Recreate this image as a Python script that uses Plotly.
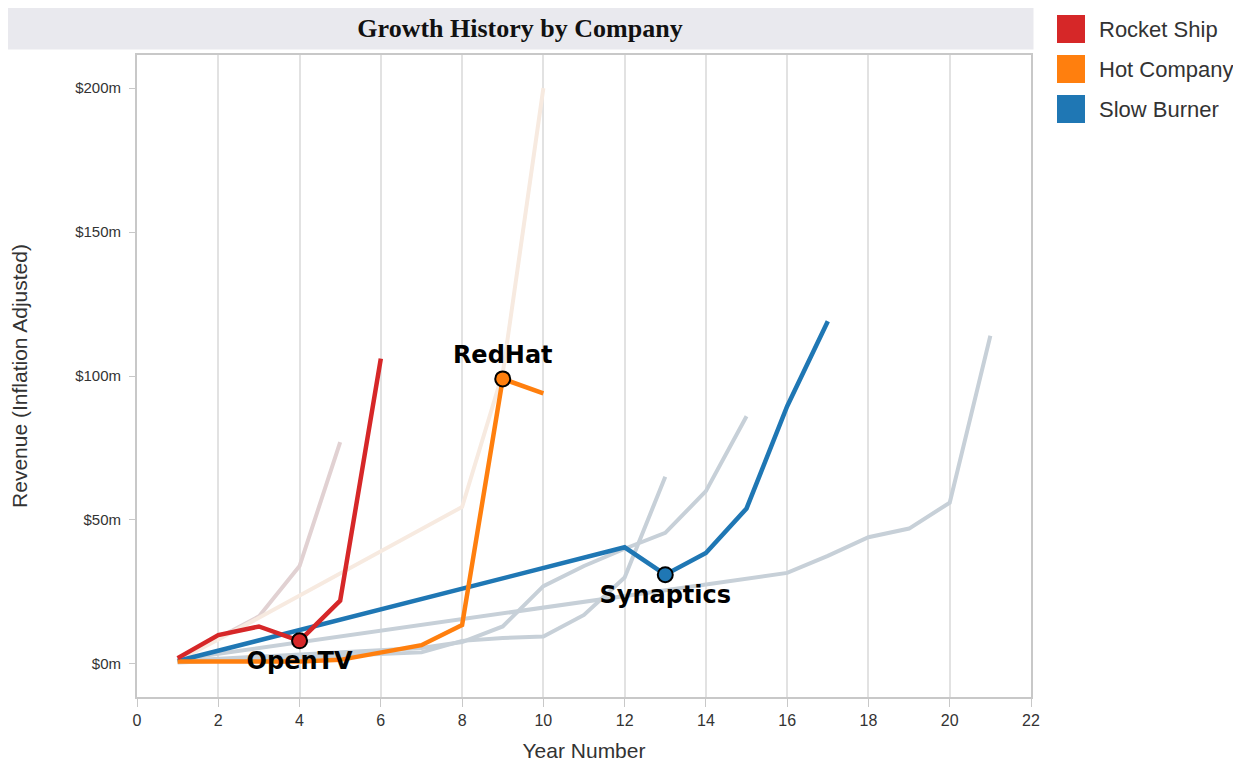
import plotly.graph_objects as go

# ---------------- data ----------------
categories = ["Rocket Ship", "Hot Company", "Slow Burner"]
cat_colors = ["#d62728", "#ff7f0e", "#1f77b4"]

# highlighted companies
opentv_years = [1, 2, 3, 4, 5, 6]
opentv_rev = [2, 10, 13, 8, 22, 106]

redhat_years = [1, 2, 3, 4, 5, 6, 7, 8, 9, 10]
redhat_rev = [0.8, 0.8, 0.8, 0.8, 1.4, 3.8, 6.5, 13.5, 99, 94]

synaptics_years = [1, 12, 13, 14, 15, 16, 17]
synaptics_rev = [1, 40.5, 31, 38.5, 54, 89.5, 119]

# faded (non-highlighted) companies
rocket_other_years = [1, 2, 3, 4, 5]
rocket_other_rev = [1, 9, 16.5, 34, 77]

hot_other_years = [1, 3, 8, 9, 10]
hot_other_rev = [1, 16, 54.5, 101, 200]

slow_a_years = [1, 11, 16, 17, 18, 19, 20, 21]
slow_a_rev = [1.5, 21.5, 31.6, 37.5, 44, 47, 56, 114]

slow_b_years = [1, 7, 8, 9, 10, 11, 12, 13]
slow_b_rev = [0.5, 4, 8, 9, 9.5, 17, 30, 65]

slow_c_years = [1, 7, 8, 9, 10, 11, 12, 13, 14, 15]
slow_c_rev = [1, 5.5, 7.6, 13, 27, 34, 40, 45.5, 60, 86]

highlight_names = ["OpenTV", "RedHat", "Synaptics"]
highlight_years = [4, 9, 13]
highlight_rev = [8, 99, 31]
highlight_pos = ["bottom center", "top center", "bottom center"]

x_ticks = [0, 2, 4, 6, 8, 10, 12, 14, 16, 18, 20, 22]
y_ticks = [0, 50, 100, 150, 200]
y_tick_labels = ["$0m", "$50m", "$100m", "$150m", "$200m"]

faded_colors = {"Rocket Ship": "#e1d1d2", "Hot Company": "#f7eae0", "Slow Burner": "#c7d0d8"}

# ---------------- layout helpers ----------------
OFF = 8  # page body margin
W, H = 1241 - 2 * OFF, 770 - 2 * OFF
# plot area in screen pixels
SL, SR, ST, SB = 137, 1031, 55, 697
L, R, T, B = SL - OFF, SR - OFF, ST - OFF, SB - OFF


def px(xs):
    return (xs - SL) / (SR - SL)


def py(ys):
    return (SB - ys) / (SB - ST)


fig = go.Figure()

faded = [
    (slow_a_years, slow_a_rev, "Slow Burner"),
    (slow_b_years, slow_b_rev, "Slow Burner"),
    (slow_c_years, slow_c_rev, "Slow Burner"),
    (rocket_other_years, rocket_other_rev, "Rocket Ship"),
    (hot_other_years, hot_other_rev, "Hot Company"),
]
for xs, ys, cat in faded:
    fig.add_trace(go.Scatter(x=xs, y=ys, mode="lines",
                             line=dict(color=faded_colors[cat], width=4),
                             showlegend=False, hoverinfo="skip"))

main = [
    (synaptics_years, synaptics_rev, cat_colors[2]),
    (redhat_years, redhat_rev, cat_colors[1]),
    (opentv_years, opentv_rev, cat_colors[0]),
]
for xs, ys, col in main:
    fig.add_trace(go.Scatter(x=xs, y=ys, mode="lines",
                             line=dict(color=col, width=4.5),
                             showlegend=False))

hl_colors = [cat_colors[0], cat_colors[1], cat_colors[2]]
for name, xv, yv, pos, col in zip(highlight_names, highlight_years, highlight_rev,
                                  highlight_pos, hl_colors):
    fig.add_trace(go.Scatter(x=[xv], y=[yv], mode="markers+text", text=[name],
                             textposition=pos,
                             textfont=dict(family="DejaVu Sans", size=24, color="black",
                                           weight="bold"),
                             marker=dict(size=15, color=col, line=dict(color="black", width=2)),
                             showlegend=False))

# title band
fig.add_annotation(xref="paper", yref="paper", x=px(520), y=py(28),
                   text="<b>Growth History by Company</b>", showarrow=False,
                   bgcolor="#e9e9ee", width=1024, height=40,
                   font=dict(family="Liberation Serif", size=26, color="#111"),
                   xanchor="center", yanchor="middle")

# manual legend
for i, (cat, col) in enumerate(zip(categories, cat_colors)):
    cy = 29 + 40 * i
    fig.add_shape(type="rect", xref="paper", yref="paper",
                  x0=px(1057), x1=px(1085), y0=py(cy + 14), y1=py(cy - 14),
                  fillcolor=col, line=dict(width=0))
    fig.add_annotation(xref="paper", yref="paper", x=px(1097), y=py(cy),
                       text=cat, showarrow=False, xanchor="left", yanchor="middle",
                       font=dict(family="Liberation Sans", size=22, color="#333"))

fig.update_layout(
    width=W, height=H,
    margin=dict(l=L, r=W - R, t=T, b=H - B),
    paper_bgcolor="white", plot_bgcolor="white",
    showlegend=False,
    font=dict(family="Liberation Sans", color="#333"),
)
fig.update_xaxes(range=[0, 22], tickvals=x_ticks, showgrid=True, gridcolor="#e2e2e2",
                 gridwidth=1.5, zeroline=False, showline=True, linecolor="#c8c8c8",
                 linewidth=2, mirror=True, ticks="outside", ticklen=8, tickcolor="#c8c8c8",
                 tickfont=dict(size=16, color="#333"), automargin=False,
                 title=dict(text="Year Number", font=dict(size=21, color="#333"), standoff=17))
fig.update_yaxes(range=[-11.5, 211.5], tickvals=y_ticks, ticktext=y_tick_labels,
                 showgrid=False, zeroline=False, showline=True, linecolor="#c8c8c8",
                 linewidth=2, mirror=True, ticks="outside", ticklen=6, tickcolor="#c8c8c8",
                 tickfont=dict(size=15, color="#333"), ticklabelstandoff=5, automargin=False,
                 title=dict(text="Revenue (Inflation Adjusted)", font=dict(size=21, color="#333"),
                            standoff=44))

fig.write_html("out.html")
